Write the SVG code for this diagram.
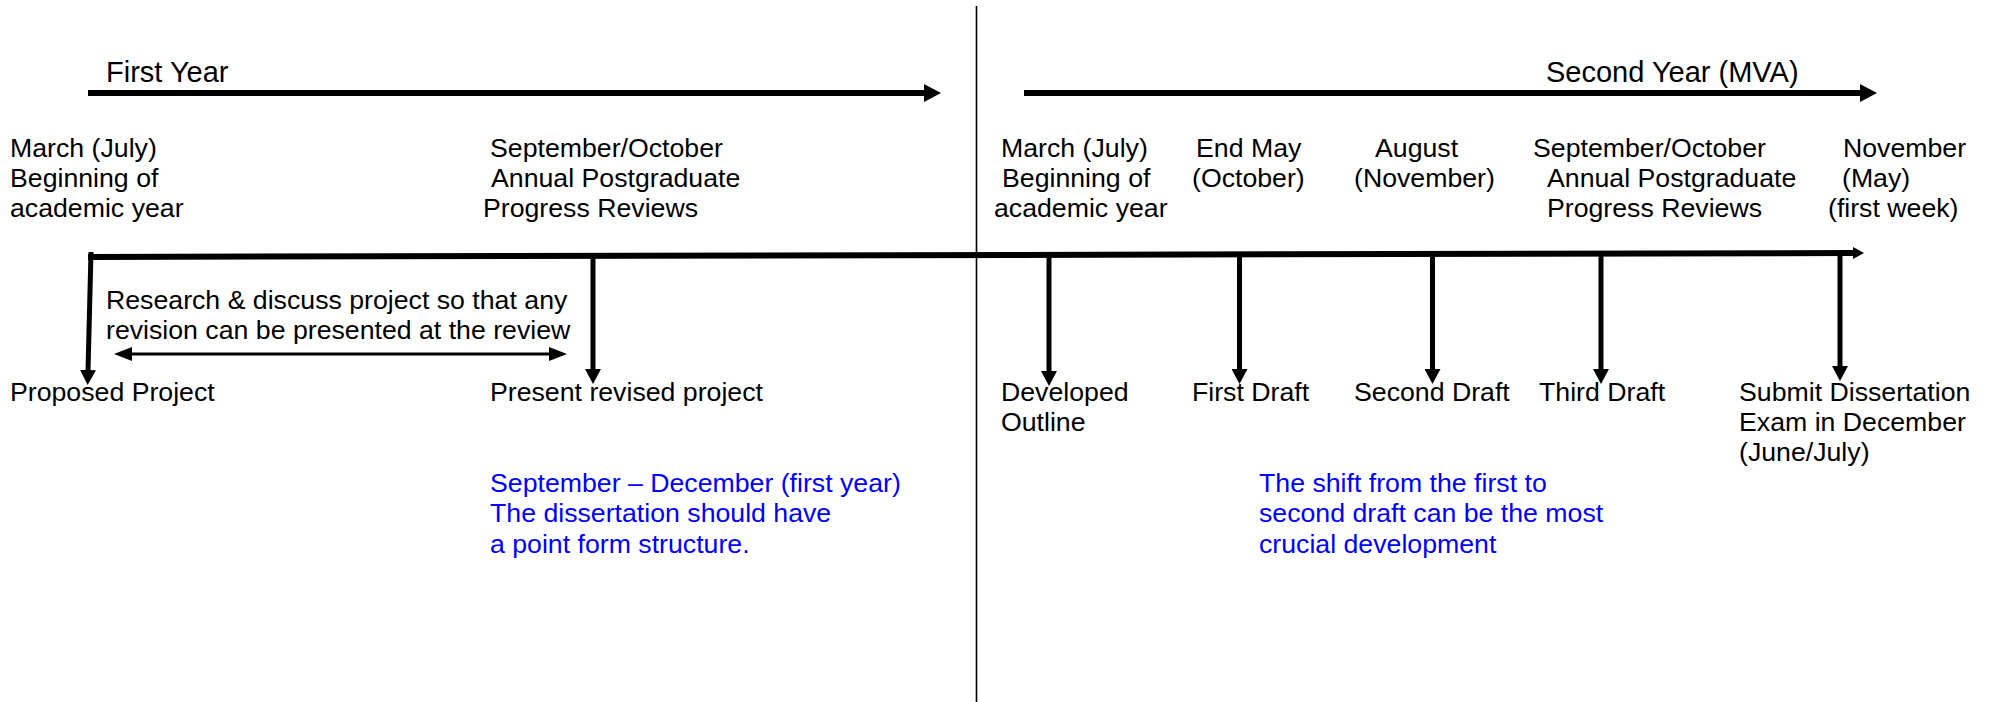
<svg xmlns="http://www.w3.org/2000/svg" width="1992" height="702" viewBox="0 0 1992 702">
<style>
text{font-family:"Liberation Sans",Arial,sans-serif;font-size:26.7px;fill:#000}
.head{font-size:29px}
.blue{fill:#0000ff}
.big{stroke:#000;stroke-width:6;fill:none}
.tick{stroke:#000;stroke-width:5;fill:none}
.thin{stroke:#000;stroke-width:3;fill:none}
</style>
<defs>
<marker id="hBig" markerUnits="userSpaceOnUse" markerWidth="18" markerHeight="18" refX="1" refY="9" orient="auto"><path d="M0,0 L17,9 L0,18 z" fill="#000"/></marker>
<marker id="hTl" markerUnits="userSpaceOnUse" markerWidth="12" markerHeight="12" refX="1" refY="6" orient="auto"><path d="M0,0 L11,6 L0,12 z" fill="#000"/></marker>
<marker id="hTick" markerUnits="userSpaceOnUse" markerWidth="16" markerHeight="16" refX="1" refY="8" orient="auto"><path d="M0,0 L15,8 L0,16 z" fill="#000"/></marker>
<marker id="hDbl" markerUnits="userSpaceOnUse" markerWidth="18" markerHeight="14" refX="1" refY="7" orient="auto-start-reverse"><path d="M0,0 L18,7 L0,14 z" fill="#000"/></marker>
</defs>

<g id="divider"><line x1="976.5" y1="6" x2="976.5" y2="702" stroke="#000" stroke-width="1.6"/></g>

<g id="first-year"><text class="head" x="106" y="82">First Year</text></g>
<g id="second-year"><text class="head" x="1546" y="82">Second Year (MVA)</text></g>

<g id="m1-top"><text x="10" y="157">March (July)</text><text x="10" y="187">Beginning of</text><text x="10" y="217">academic year</text></g>
<g id="m2-top"><text x="490" y="157">September/October</text><text x="491" y="187">Annual Postgraduate</text><text x="483" y="217">Progress Reviews</text></g>
<g id="m3-top"><text x="1001" y="157">March (July)</text><text x="1002" y="187">Beginning of</text><text x="994" y="217">academic year</text></g>
<g id="m4-top"><text x="1196" y="157">End May</text><text x="1192" y="187">(October)</text></g>
<g id="m5-top"><text x="1375" y="157">August</text><text x="1354" y="187">(November)</text></g>
<g id="m6-top"><text x="1533" y="157">September/October</text><text x="1547" y="187">Annual Postgraduate</text><text x="1547" y="217">Progress Reviews</text></g>
<g id="m7-top"><text x="1843" y="157">November</text><text x="1842" y="187">(May)</text><text x="1828" y="217">(first week)</text></g>

<g id="research-note"><text x="106" y="309">Research &amp; discuss project so that any</text><text x="106" y="339">revision can be presented at the review</text></g>

<g id="m1-bottom"><text x="10" y="401">Proposed Project</text></g>
<g id="m2-bottom"><text x="490" y="401">Present revised project</text></g>
<g id="m3-bottom"><text x="1001" y="401">Developed</text><text x="1001" y="431">Outline</text></g>
<g id="m4-bottom"><text x="1192" y="401">First Draft</text></g>
<g id="m5-bottom"><text x="1354" y="401">Second Draft</text></g>
<g id="m6-bottom"><text x="1539" y="401">Third Draft</text></g>
<g id="m7-bottom"><text x="1739" y="401">Submit Dissertation</text><text x="1739" y="431">Exam in December</text><text x="1739" y="461">(June/July)</text></g>

<g id="note-first"><text class="blue" x="490" y="492">September – December (first year)</text><text class="blue" x="490" y="522">The dissertation should have</text><text class="blue" x="490" y="553">a point form structure.</text></g>
<g id="note-second"><text class="blue" x="1259" y="492">The shift from the first to</text><text class="blue" x="1259" y="522">second draft can be the most</text><text class="blue" x="1259" y="553">crucial development</text></g>

<g id="connectors">
<line class="big" x1="88" y1="93" x2="925" y2="93" marker-end="url(#hBig)"/>
<line class="big" x1="1024" y1="93" x2="1861" y2="93" marker-end="url(#hBig)"/>
<line class="big" x1="88" y1="257" x2="1854" y2="253" marker-end="url(#hTl)"/>
<line class="tick" x1="91" y1="252" x2="88" y2="371" marker-end="url(#hTick)"/>
<line class="tick" x1="593" y1="256" x2="593" y2="370" marker-end="url(#hTick)"/>
<line class="tick" x1="1049" y1="255" x2="1049" y2="372" marker-end="url(#hTick)"/>
<line class="tick" x1="1239.5" y1="254" x2="1239.5" y2="370" marker-end="url(#hTick)"/>
<line class="tick" x1="1432.5" y1="254" x2="1432.5" y2="370" marker-end="url(#hTick)"/>
<line class="tick" x1="1601" y1="254" x2="1601" y2="370" marker-end="url(#hTick)"/>
<line class="tick" x1="1840" y1="253" x2="1840" y2="367" marker-end="url(#hTick)"/>
<line class="thin" x1="131" y1="354" x2="550" y2="354" marker-start="url(#hDbl)" marker-end="url(#hDbl)"/>
</g>
</svg>
